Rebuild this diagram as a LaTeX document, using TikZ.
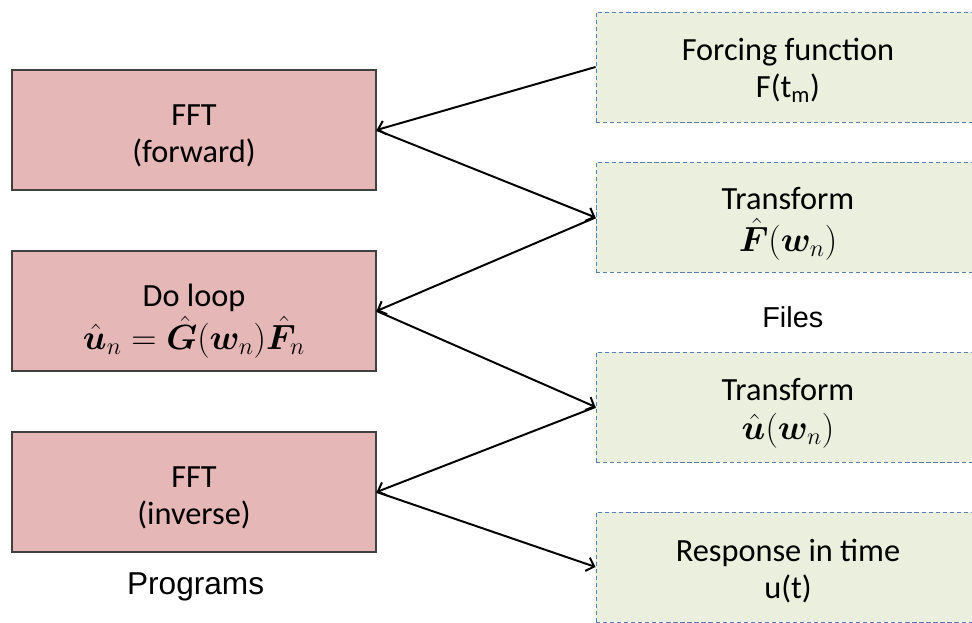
\documentclass[tikz,border=0pt]{standalone}
\usepackage{fontspec}
\usepackage{bm}
\setmainfont{Carlito}
\newfontfamily\labelfont{Liberation Sans}
\usetikzlibrary{arrows.meta}
\definecolor{progfill}{RGB}{229,183,183}
\definecolor{progline}{RGB}{64,64,64}
\definecolor{filefill}{RGB}{234,239,222}
\definecolor{fileline}{RGB}{84,126,180}
\tikzset{
  prog/.style={draw=progline, line width=0.9pt, fill=progfill,
    minimum width=9.1cm, minimum height=3cm},
  file/.style={draw=fileline, line width=0.7pt, dash pattern=on 3pt off 2pt,
    fill=filefill, minimum width=9.6cm, minimum height=2.75cm},
  inside/.style={align=center, yshift=-0.15cm, font=\fontsize{23}{26}\selectfont},
  flow/.style={line width=1.4pt, -{Straight Barb[length=5pt,width=10pt]}},
  caption/.style={font=\labelfont\fontsize{22.5}{26}\selectfont}
}
\begin{document}
\begin{tikzpicture}
  \useasboundingbox (0,0) rectangle (24.3,15.55);
  \clip (0,0) rectangle (24.3,15.55);
  % programs
  \node[prog] (fwd) at (4.85,12.3) {};
  \node[prog] (loop) at (4.85,7.775) {};
  \node[prog] (inv) at (4.85,3.25) {};
  \node[inside] (fwdtxt) at (fwd) {FFT\\(forward)};
  \node[inside, yshift=-0.1cm] (looptxt) at (loop) {Do loop\\[2pt]
    $\hat{\bm{u}}_n=\hat{\bm{G}}(\bm{w}_n)\hat{\bm{F}}_n$};
  \node[inside] (invtxt) at (inv) {FFT\\(inverse)};
  % files
  \node[file] (force) at (19.7,13.875) {};
  \node[file] (ftr) at (19.7,10.1125) {};
  \node[file] (utr) at (19.7,5.375) {};
  \node[file] (resp) at (19.7,1.375) {};
  \node[inside, yshift=0.07cm] (forcetxt) at (force) {Forcing function\\F(t\textsubscript{m})};
  \node[inside] (ftrtxt) at (ftr) {Transform\\[4pt]$\hat{\bm{F}}(\bm{w}_n)$};
  \node[inside] (utrtxt) at (utr) {Transform\\[2pt]$\hat{\bm{u}}(\bm{w}_n)$};
  \node[inside, yshift=0.05cm] (resptxt) at (resp) {Response in time\\u(t)};
  \node[caption] (programs) at (4.89,0.875) {Programs};
  \node[caption, font=\labelfont\fontsize{20.5}{24}\selectfont] (files) at (19.82,7.625) {Files};
  \draw[flow] (force.west) -- (fwd.east);
  \draw[flow] (fwd.east) -- (ftr.west);
  \draw[flow] (ftr.west) -- (loop.east);
  \draw[flow] (loop.east) -- (utr.west);
  \draw[flow] (utr.west) -- (inv.east);
  \draw[flow] (inv.east) -- (resp.west);
\end{tikzpicture}
\end{document}
